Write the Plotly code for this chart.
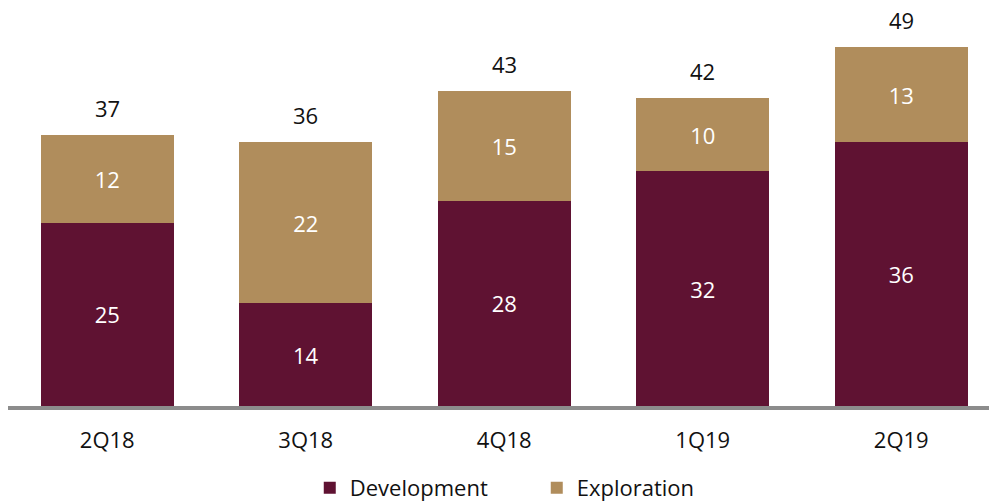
import plotly.graph_objects as go

categories = ["2Q18", "3Q18", "4Q18", "1Q19", "2Q19"]
development = [25, 14, 28, 32, 36]
exploration = [12, 22, 15, 10, 13]
totals = [37, 36, 43, 42, 49]

DEV_COLOR = "#5F1232"
EXP_COLOR = "#B08D5C"
FONT = "Open Sans"

fig = go.Figure()
fig.add_trace(go.Bar(
    x=categories, y=development, name="Development",
    marker=dict(color=DEV_COLOR, line=dict(width=0)),
    text=[str(v) for v in development], textposition="inside",
    insidetextanchor="middle", textangle=0,
    textfont=dict(color="white", size=22, family=FONT),
    width=0.67,
))
fig.add_trace(go.Bar(
    x=categories, y=exploration, name="Exploration",
    marker=dict(color=EXP_COLOR, line=dict(width=0)),
    text=[str(v) for v in exploration], textposition="inside",
    insidetextanchor="middle", textangle=0,
    textfont=dict(color="white", size=22, family=FONT),
    width=0.67,
))
for c, t in zip(categories, totals):
    fig.add_annotation(
        x=c, y=t, text=str(t), showarrow=False,
        yanchor="middle", yshift=27,
        font=dict(color="#111111", size=22, family=FONT),
    )

fig.update_layout(
    barmode="stack",
    width=989, height=501,
    margin=dict(l=8, r=0, t=0, b=95, autoexpand=False),
    paper_bgcolor="white", plot_bgcolor="white",
    font=dict(family=FONT, size=22, color="#111111"),
    showlegend=True,
    legend=dict(
        orientation="h", x=0.539, xanchor="center",
        yref="container", y=0.026, yanchor="middle",
        font=dict(size=22, family=FONT, color="#111111"),
        itemwidth=30, traceorder="normal", entrywidth=182,
    ),
    xaxis=dict(
        range=[-0.5, 4.442], showgrid=False, zeroline=False,
        showline=True, linecolor="#8C8C8C", linewidth=4,
        ticks="outside", ticklen=12, tickcolor="rgba(0,0,0,0)",
        tickfont=dict(size=22, family=FONT, color="#111111"),
    ),
    yaxis=dict(
        range=[0, 55.4], visible=False, showgrid=False, zeroline=False,
    ),
)

fig.write_html("out.html")
